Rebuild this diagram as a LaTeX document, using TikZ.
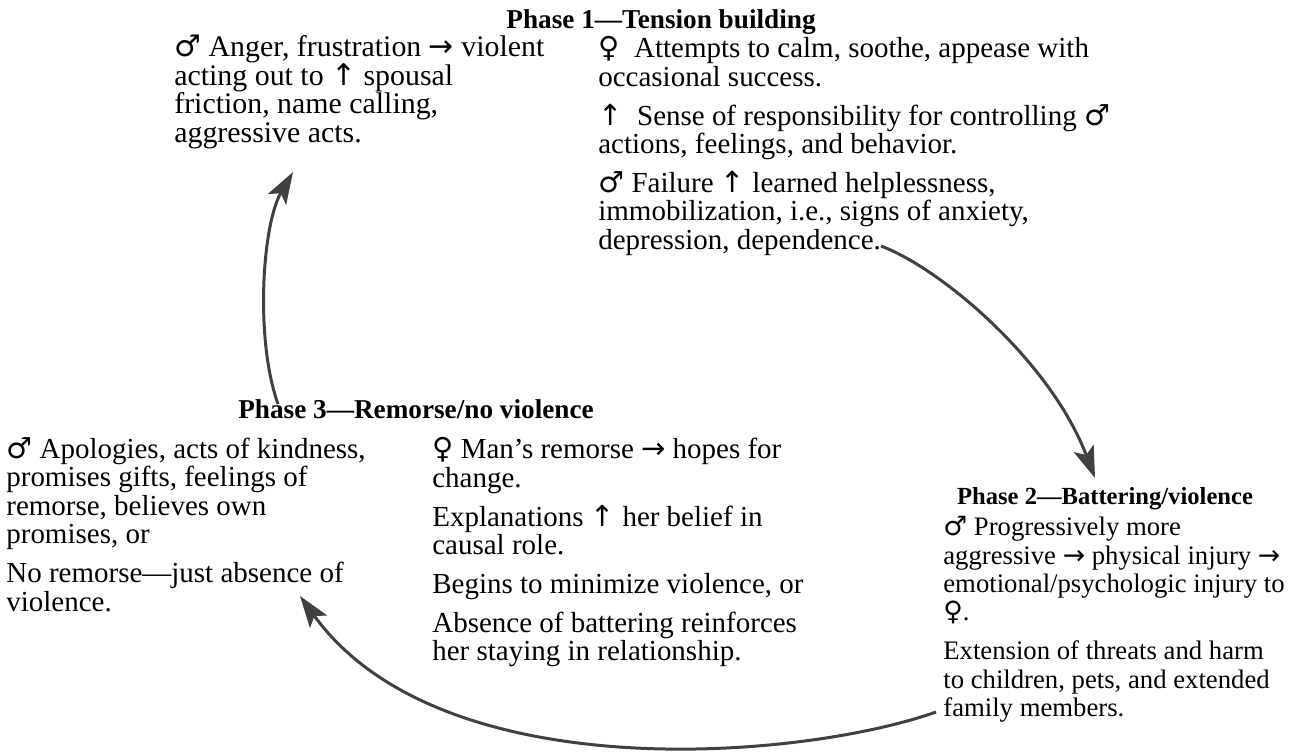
\documentclass[tikz,border=0pt]{standalone}
\usepackage{fontspec}
\setmainfont{Liberation Serif}
\newfontfamily\symfont{DejaVu Sans}
\usetikzlibrary{arrows.meta}

\newcommand{\msym}{{\symfont ♂}}
\newcommand{\fsym}{{\symfont ♀}}
\newcommand{\uarr}{{\symfont ↑}}
\newcommand{\rarr}{{\symfont →}}
\newcommand{\tightlines}{\lineskiplimit=-6pt\relax}

\tikzset{
    phasetitle/.style={font=\fontsize{15.5}{17}\selectfont\bfseries, inner sep=0pt},
    blocktext/.style={font=\fontsize{16.5}{16.2}\selectfont\tightlines, align=left, anchor=north west, inner sep=0pt},
    cyclearrow/.style={line width=1.7pt, draw=black!75, -{Stealth[length=18pt,width=12pt,inset=4pt,fill=black!75]}}
}

\begin{document}
\begin{tikzpicture}[x=0.02cm, y=-0.02cm]
        \useasboundingbox (0,0) rectangle (1290,755);

        % Phase 1: tension building
        \node[phasetitle] (ph1) at (661,22) {Phase 1---Tension building};
        \node[blocktext, font=\fontsize{17}{16.2}\selectfont\tightlines] (anger) at (174,35) {\msym\ Anger, frustration \rarr\ violent\\
            acting out to \uarr\ spousal\\
            friction, name calling,\\
            aggressive acts.};
        \node[blocktext] (calm) at (598,36) {\fsym\ \ Attempts to calm, soothe, appease with\\
            occasional success.\\[6pt]
            \uarr\ \ Sense of responsibility for controlling \msym\\
            actions, feelings, and behavior.\\[6pt]
            \msym\ Failure \uarr\ learned helplessness,\\
            immobilization, i.e., signs of anxiety,\\
            depression, dependence.};

        % Phase 2: battering
        \node[phasetitle, font=\fontsize{14}{16}\selectfont\bfseries] (ph2) at (1105,499) {Phase 2---Battering/violence};
        \node[blocktext, font=\fontsize{15.2}{16.2}\selectfont\tightlines] (injury) at (943,516) {\msym\ Progressively more\\
            aggressive \rarr\ physical injury \rarr\\
            emotional/psychologic injury to\\
            \fsym.\\[6pt]
            Extension of threats and harm\\
            to children, pets, and extended\\
            family members.};

        % Phase 3: remorse
        \node[phasetitle] (ph3) at (416,409) {Phase 3---Remorse/no violence};
        \node[blocktext] (apology) at (6,437) {\msym\ Apologies, acts of kindness,\\
            promises gifts, feelings of\\
            remorse, believes own\\
            promises, or\\[6pt]
            No remorse---just absence of\\
            violence.};
        \node[blocktext] (hope) at (432,437) {\fsym\ Man's remorse \rarr\ hopes for\\
            change.\\[6pt]
            Explanations \uarr\ her belief in\\
            causal role.\\[6pt]
            Begins to minimize violence, or\\[6pt]
            Absence of battering reinforces\\
            her staying in relationship.};

        % cycle arrows
        \coordinate (a1s) at (881,246);
        \coordinate (a1e) at (1095,478);
        \coordinate (a2s) at (936,712);
        \coordinate (a2e) at (300,596);
        \coordinate (a3s) at (278,404);
        \coordinate (a3e) at (293,172);
        \draw[cyclearrow] (a1s) .. controls (940,268) and (1050,360) .. (a1e);
        \draw[cyclearrow] (a2s) .. controls (800,760) and (440,790) .. (a2e);
        \draw[cyclearrow] (a3s) .. controls (255,340) and (262,225) .. (a3e);
    \end{tikzpicture}
\end{document}
